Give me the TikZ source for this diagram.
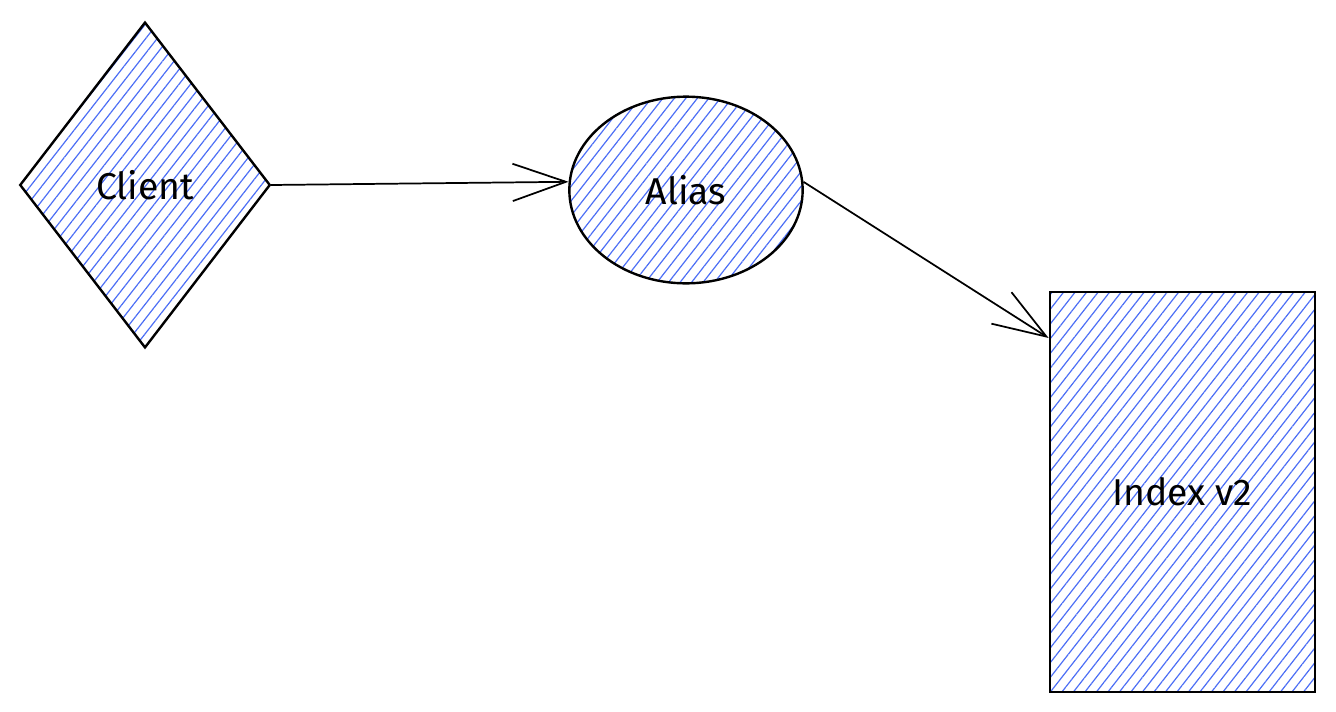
\documentclass[tikz,border=0pt]{standalone}
\usepackage{fontspec}
\setmainfont{Fira Sans}
\usetikzlibrary{shapes.geometric,arrows.meta,patterns.meta,calc}
\definecolor{hatch}{HTML}{4C6EF5}
\tikzset{
  sketch/.style={draw=black, line width=1.8pt,
    pattern={Lines[angle=52,distance=6.8pt,line width=0.9pt]}, pattern color=hatch,
    font=\fontsize{28}{32}\selectfont, inner sep=0pt},
  link/.style={draw=black, line width=1.3pt,
    -{Straight Barb[length=40pt,width=28pt,line width=1.3pt]}}
}
\begin{document}
\begin{tikzpicture}[x=0.75pt,y=-0.75pt]
  \useasboundingbox (0,0) rectangle (1336,711);
  % client entry point
  \node[sketch, shape=diamond, minimum width=187.5pt, minimum height=244pt] (client) at (145,185) {Client};
  % alias pointing at the live index
  \node[sketch, shape=ellipse, minimum width=175pt, minimum height=140pt] (alias) at (686,190) {Alias};
  % backing index
  \node[sketch, shape=rectangle, minimum width=199pt, minimum height=300pt] (index) at (1182.5,492) {Index v2};
  \draw[link] (client.east) -- (alias.176);
  \draw[link] (alias.4) -- (index.131);
\end{tikzpicture}
\end{document}
